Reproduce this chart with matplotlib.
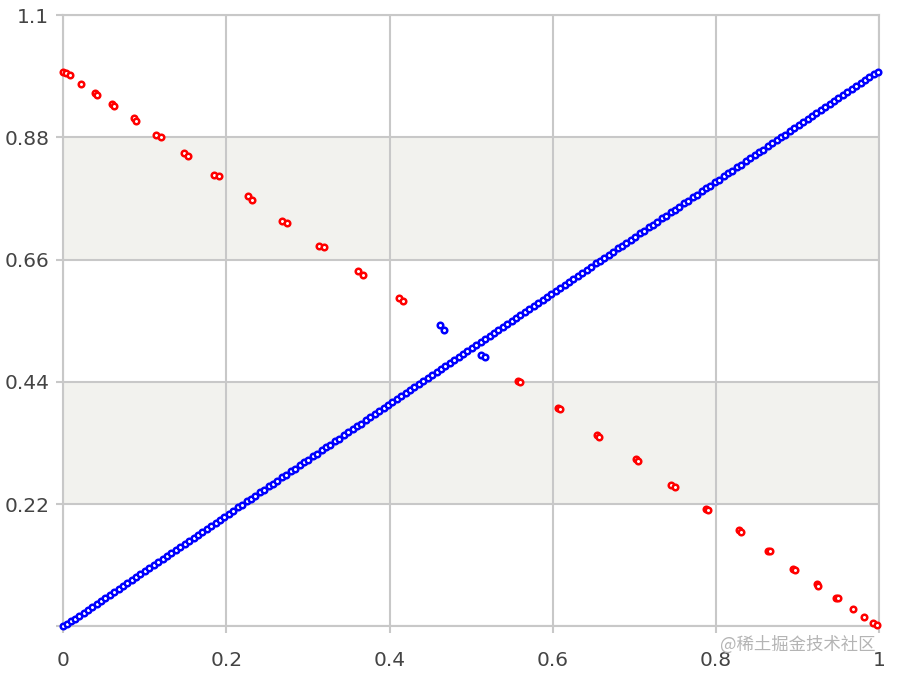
import matplotlib
matplotlib.use("Agg")
import matplotlib.pyplot as plt

# red points (pairs that sit close together)
red_x = [0.000, 0.003, 0.008, 0.022, 0.039, 0.041, 0.060, 0.062, 0.087, 0.089,
         0.114, 0.120, 0.148, 0.153, 0.185, 0.191, 0.226, 0.231, 0.268, 0.274,
         0.313, 0.319, 0.361, 0.367, 0.411, 0.416, 0.557, 0.560, 0.606, 0.609,
         0.654, 0.657, 0.702, 0.704, 0.745, 0.750, 0.788, 0.790, 0.828, 0.831,
         0.864, 0.866, 0.894, 0.897, 0.924, 0.925, 0.947, 0.949, 0.968, 0.982,
         0.992, 0.997]
red_y = [0.998, 0.996, 0.992, 0.976, 0.960, 0.956, 0.940, 0.937, 0.914, 0.910,
         0.885, 0.881, 0.851, 0.847, 0.813, 0.810, 0.775, 0.768, 0.730, 0.726,
         0.685, 0.682, 0.640, 0.633, 0.590, 0.585, 0.441, 0.439, 0.393, 0.391,
         0.344, 0.341, 0.301, 0.297, 0.254, 0.251, 0.211, 0.209, 0.173, 0.170,
         0.136, 0.136, 0.103, 0.102, 0.076, 0.073, 0.051, 0.051, 0.031, 0.017,
         0.006, 0.003]

# blue points: the diagonal run plus two off-line pairs near the middle
blue_diag = [0.000, 0.004, 0.009, 0.014, 0.019, 0.025, 0.030, 0.035, 0.041, 0.046,
             0.051, 0.057, 0.062, 0.068, 0.073, 0.078, 0.084, 0.089, 0.094, 0.100,
             0.105, 0.111, 0.116, 0.122, 0.127, 0.132, 0.138, 0.143, 0.149, 0.154,
             0.160, 0.165, 0.170, 0.176, 0.181, 0.187, 0.192, 0.197, 0.203, 0.208,
             0.214, 0.219, 0.225, 0.230, 0.235, 0.241, 0.246, 0.252, 0.257, 0.262,
             0.268, 0.273, 0.279, 0.284, 0.290, 0.295, 0.300, 0.306, 0.311, 0.317,
             0.322, 0.327, 0.333, 0.338, 0.344, 0.349, 0.355, 0.360, 0.365, 0.371,
             0.376, 0.382, 0.387, 0.393, 0.398, 0.403, 0.409, 0.414, 0.420, 0.425,
             0.430, 0.436, 0.441, 0.447, 0.452, 0.458, 0.463, 0.468, 0.474, 0.479,
             0.485, 0.490, 0.495, 0.501, 0.506, 0.512, 0.517, 0.523, 0.528, 0.533,
             0.539, 0.544, 0.550, 0.555, 0.560, 0.566, 0.571, 0.577, 0.582, 0.588,
             0.593, 0.598, 0.604, 0.609, 0.615, 0.620, 0.625, 0.631, 0.636, 0.642,
             0.647, 0.653, 0.658, 0.663, 0.669, 0.674, 0.680, 0.685, 0.690, 0.696,
             0.701, 0.707, 0.712, 0.718, 0.723, 0.728, 0.734, 0.739, 0.745, 0.750,
             0.755, 0.761, 0.766, 0.772, 0.777, 0.783, 0.788, 0.793, 0.799, 0.804,
             0.810, 0.815, 0.820, 0.826, 0.831, 0.837, 0.842, 0.848, 0.853, 0.858,
             0.864, 0.869, 0.875, 0.880, 0.885, 0.891, 0.896, 0.902, 0.907, 0.913,
             0.918, 0.923, 0.929, 0.934, 0.940, 0.945, 0.950, 0.956, 0.961, 0.967,
             0.972, 0.978, 0.983, 0.988, 0.994, 0.998]
blue_off_x = [0.462, 0.467, 0.512, 0.517]
blue_off_y = [0.542, 0.533, 0.488, 0.484]

x_ticks = [0, 0.2, 0.4, 0.6, 0.8, 1]
x_labels = ["0", "0.2", "0.4", "0.6", "0.8", "1"]
y_ticks = [0, 0.22, 0.44, 0.66, 0.88, 1.1]
y_labels = ["", "0.22", "0.44", "0.66", "0.88", "1.1"]
bands = [(0.22, 0.44), (0.66, 0.88)]

grid_c = "#c8c8c8"
text_c = "#444444"

fig = plt.figure(figsize=(8.98, 6.76), dpi=100)
ax = fig.add_axes([0.0705, 0.0733, 0.9085, 0.9045])

for lo, hi in bands:
    ax.axhspan(lo, hi, color="#f2f2ee", zorder=0, lw=0)

mk = dict(linestyle="none", marker="o", markersize=4.0, markeredgewidth=1.8,
          markerfacecolor="white", zorder=3, clip_on=False)
ax.plot(red_x, red_y, markeredgecolor="#ff0000", **mk)
ax.plot(blue_diag, blue_diag, markeredgecolor="#0000ff", **mk)
ax.plot(blue_off_x, blue_off_y, markeredgecolor="#0000ff", **mk)

ax.set_xlim(0, 1)
ax.set_ylim(0, 1.1)
ax.set_xticks(x_ticks)
ax.set_xticklabels(x_labels)
ax.set_yticks(y_ticks)
ax.set_yticklabels(y_labels)
ax.grid(True, color=grid_c, linewidth=1.5, zorder=1)
ax.set_axisbelow(True)
for s in ax.spines.values():
    s.set_color(grid_c)
    s.set_linewidth(1.5)
ax.tick_params(axis="both", colors=grid_c, length=5, width=1.5,
               labelcolor=text_c, labelsize=14.5)
ax.tick_params(axis="x", pad=13)
ax.tick_params(axis="y", pad=5)

# watermark in the lower right corner
fig.text(0.975, 0.047, "@稀土掘金技术社区", ha="right", va="center",
         fontsize=12.5, color="#b4b4b4",
         family=["Noto Sans CJK SC", "DejaVu Sans"])

fig.savefig("out.png", dpi=100)
